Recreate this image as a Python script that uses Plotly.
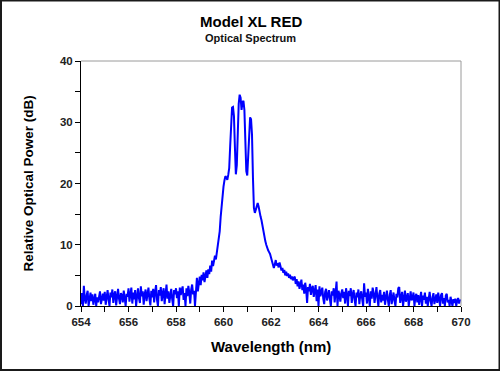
import plotly.graph_objects as go

# Sampling grid of the measured spectrum (nm)
wl_start = 654.0
wl_step = 0.04

# Relative optical power (dB), one row per nm (25 samples each)
p654 = [0.3, 2.1, 0.0, 3.3, 1.2, 0.4, 1.8, 2.5, 0.0, 1.6, 2.2, 0.8, 1.9, 0.2, 1.1, 2.0, 0.0, 1.4, 0.6, 1.7, 2.4, 0.3, 1.5, 2.0, 0.9]
p655 = [2.3, 0.2, 1.8, 2.6, 1.0, 0.0, 2.2, 1.4, 2.7, 0.5, 1.9, 2.4, 0.1, 1.6, 2.8, 1.2, 0.3, 2.1, 1.7, 0.6, 2.5, 1.3, 0.0, 2.0, 1.5]
p656 = [2.9, 0.7, 1.9, 3.0, 0.4, 2.2, 1.1, 2.6, 0.0, 1.8, 2.9, 1.3, 0.5, 3.2, 1.6, 2.4, 0.2, 1.9, 2.7, 0.8, 2.1, 3.0, 1.2, 0.1, 2.5]
p657 = [1.4, 2.8, 0.6, 2.3, 3.4, 1.0, 0.0, 2.6, 1.7, 3.1, 0.8, 2.0, 2.9, 0.3, 1.5, 3.5, 1.2, 2.4, 0.5, 2.2, 2.8, 1.1, 0.0, 2.6, 1.9]
p658 = [2.9, 1.3, 2.4, 0.0, 3.0, 1.8, 2.6, 3.2, 1.0, 2.1, 0.0, 2.9, 1.6, 3.3, 2.2, 0.4, 2.7, 3.5, 1.9, 2.5, 0.0, 3.1, 4.6, 2.4, 4.2]
p659 = [4.8, 3.4, 5.1, 4.2, 5.5, 3.9, 4.9, 5.8, 4.6, 6.0, 5.2, 6.6, 5.6, 7.4, 6.5, 7.8, 8.2, 7.6, 8.6, 9.6, 11.0, 12.2, 14.5, 16.5, 18.0]
p660 = [19.5, 20.5, 21.2, 21.0, 20.6, 21.4, 22.5, 26.0, 30.5, 32.4, 32.5, 31.0, 26.0, 21.5, 23.0, 29.0, 33.0, 34.5, 34.0, 32.0, 33.3, 33.5, 32.0, 27.0, 22.0]
p661 = [21.3, 25.0, 29.5, 30.8, 30.5, 28.0, 21.0, 16.0, 15.2, 15.8, 16.6, 16.8, 16.2, 15.0, 14.6, 14.0, 13.0, 12.2, 11.4, 10.6, 10.0, 9.4, 9.1, 8.8, 8.5]
p662 = [7.9, 7.2, 6.6, 6.2, 6.8, 7.5, 6.6, 7.0, 6.3, 7.1, 6.5, 5.8, 6.2, 5.4, 5.9, 5.0, 5.6, 4.9, 5.3, 4.6, 5.1, 4.4, 4.8, 4.2, 4.6]
p663 = [4.8, 3.6, 4.4, 3.2, 4.0, 2.8, 3.9, 4.3, 2.6, 3.5, 2.0, 3.8, 2.7, 0.5, 3.1, 2.4, 3.6, 1.8, 2.9, 3.3, 1.5, 2.6, 3.4, 0.8, 2.7]
p664 = [0.0, 3.2, 1.6, 2.5, 3.0, 1.2, 0.3, 2.3, 2.8, 0.9, 2.0, 2.6, 1.1, 0.0, 2.4, 1.7, 2.9, 0.6, 2.2, 4.0, 0.0, 2.5, 1.9, 0.7, 2.1]
p665 = [2.7, 1.3, 2.3, 0.4, 2.9, 1.8, 0.0, 2.5, 1.6, 2.9, 0.5, 1.9, 2.6, 1.0, 0.0, 2.2, 1.4, 2.7, 0.3, 1.8, 2.4, 1.1, 0.0, 3.7, 1.5]
p666 = [2.2, 0.4, 2.8, 1.6, 0.0, 2.4, 1.2, 3.0, 2.2, 0.5, 1.7, 3.1, 1.3, 0.0, 2.0, 2.6, 0.6, 1.8, 0.9, 2.3, 0.2, 1.5, 2.5, 1.0, 0.0]
p667 = [1.8, 2.6, 0.3, 1.5, 2.2, 0.8, 0.0, 2.0, 1.4, 2.9, 3.1, 0.5, 1.7, 2.3, 0.0, 1.9, 2.5, 0.7, 1.2, 2.1, 0.0, 1.6, 2.4, 0.9, 1.3]
p668 = [2.2, 0.0, 1.5, 2.0, 0.6, 1.8, 0.2, 1.1, 2.3, 0.0, 1.7, 1.0, 2.2, 0.4, 1.5, 0.0, 1.9, 2.3, 0.8, 0.0, 1.4, 2.1, 0.3, 1.6, 1.9]
p669 = [0.5, 2.2, 1.2, 0.0, 1.8, 2.1, 0.4, 1.3, 0.0, 1.7, 2.0, 0.6, 1.0, 0.0, 1.5, 0.8, 0.0, 1.1, 0.5, 1.2, 0.0, 0.9, 1.3, 0.4, 1.0]
p670 = [0.8]

power_db = (p654 + p655 + p656 + p657 + p658 + p659 + p660 + p661 + p662 + p663
            + p664 + p665 + p666 + p667 + p668 + p669 + p670)
wavelength = [round(wl_start + i * wl_step, 2) for i in range(len(power_db))]

x_ticks = [654, 656, 658, 660, 662, 664, 666, 668, 670]
y_ticks = [0, 10, 20, 30, 40]

title_text = "Model XL RED"
subtitle_text = "Optical Spectrum"
x_title = "Wavelength (nm)"
y_title = "Relative Optical Power (dB)"

FONT = "Liberation Sans, Arial, sans-serif"

fig = go.Figure()
fig.add_trace(go.Scatter(
    x=wavelength, y=power_db, mode="lines",
    line=dict(color="#0000FF", width=2),
    hoverinfo="skip", showlegend=False,
))

axis_common = dict(
    showgrid=False, zeroline=False, showline=True, linecolor="#000000", linewidth=1,
    ticks="outside", ticklen=5, tickcolor="#000000", tickwidth=1,
    tickfont=dict(family=FONT, size=11.5, color="#222222", weight="bold"),
)

fig.update_layout(
    width=500, height=371,
    margin=dict(l=81, r=39, t=61, b=65),
    paper_bgcolor="#FFFFFF", plot_bgcolor="#FFFFFF",
    font=dict(family=FONT),
    xaxis=dict(range=[654, 670], tickvals=x_ticks, ticktext=[str(v) for v in x_ticks],
               minor=dict(dtick=1, tick0=654, ticks="outside", ticklen=5, tickcolor="#000000"),
               **axis_common),
    yaxis=dict(range=[0, 40], tickvals=y_ticks, ticktext=[str(v) for v in y_ticks],
               minor=dict(dtick=5, tick0=0, ticks="outside", ticklen=5, tickcolor="#000000"),
               **axis_common),
    shapes=[
        # grey top and right plot frame
        dict(type="line", xref="paper", yref="paper", x0=0, x1=1, y0=1, y1=1,
             line=dict(color="#9A9A9A", width=1)),
        dict(type="line", xref="paper", yref="paper", x0=1, x1=1, y0=0, y1=1,
             line=dict(color="#9A9A9A", width=1)),
        # outer image border
        dict(type="rect", xref="paper", yref="paper", xsizemode="pixel", ysizemode="pixel",
             xanchor=0, yanchor=0, x0=-80, x1=418.5, y0=-64, y1=305.5,
             line=dict(color="#1A1A1A", width=2)),
    ],
    annotations=[
        dict(text=title_text, xref="paper", yref="paper", x=0.5, y=1, xanchor="center",
             yanchor="middle", xshift=-20.5, yshift=40, showarrow=False,
             font=dict(family=FONT, size=15, color="#000000", weight="bold")),
        dict(text=subtitle_text, xref="paper", yref="paper", x=0.5, y=1, xanchor="center",
             yanchor="middle", xshift=-20.5, yshift=23, showarrow=False,
             font=dict(family=FONT, size=11, color="#111111", weight="bold")),
        dict(text=x_title, xref="paper", yref="paper", x=0.5, y=0, xanchor="center",
             yanchor="middle", yshift=-40, showarrow=False,
             font=dict(family=FONT, size=15, color="#000000", weight="bold")),
        dict(text=y_title, xref="paper", yref="paper", x=0, y=0.5, xanchor="center",
             yanchor="middle", xshift=-53, textangle=-90, showarrow=False,
             font=dict(family=FONT, size=13.5, color="#000000", weight="bold")),
    ],
)

fig.write_html("out.html", config={"displayModeBar": False},
               post_script="document.body.style.margin='0';document.body.style.overflow='hidden';")
